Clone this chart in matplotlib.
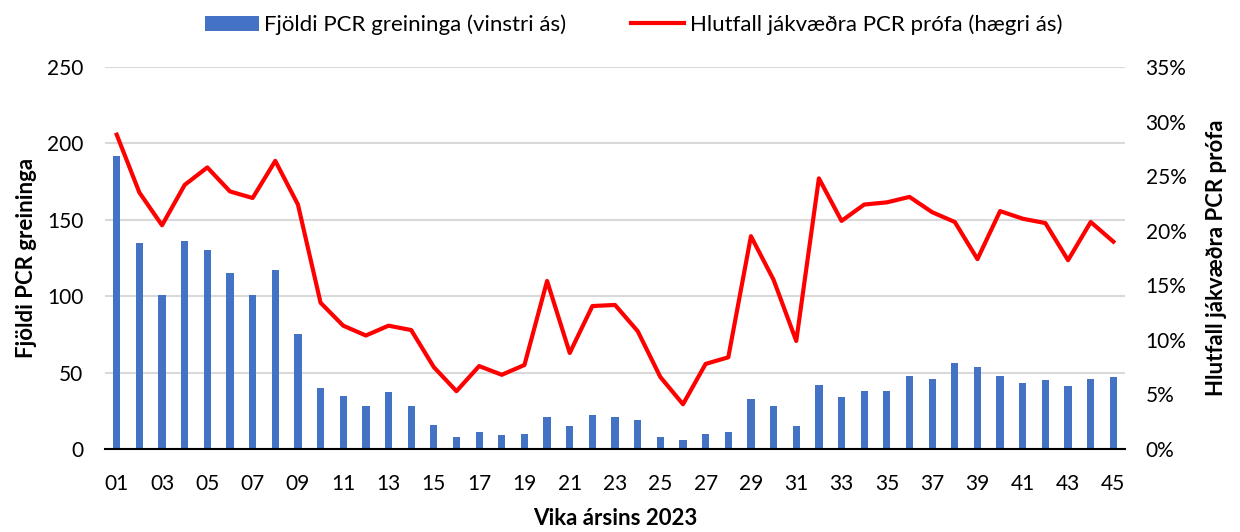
import matplotlib.pyplot as plt
from matplotlib.ticker import FuncFormatter

plt.rcParams['font.family'] = ['Lato', 'DejaVu Sans']

weeks = list(range(1, 46))
pcr_count = [192, 135, 101, 136, 130, 115, 101, 117, 75, 40,
             35, 28, 37, 28, 16, 8, 11, 9, 10, 21,
             15, 22, 21, 19, 8, 6, 10, 11, 33, 28,
             15, 42, 34, 38, 38, 48, 46, 56, 54, 48,
             43, 45, 41, 46, 47]
pos_rate = [28.8, 23.5, 20.5, 24.2, 25.8, 23.6, 23.0, 26.4, 22.4, 13.4,
            11.3, 10.4, 11.3, 10.9, 7.5, 5.3, 7.6, 6.8, 7.7, 15.4,
            8.8, 13.1, 13.2, 10.8, 6.6, 4.1, 7.8, 8.4, 19.5, 15.5,
            9.9, 24.8, 20.9, 22.4, 22.6, 23.1, 21.7, 20.8, 17.4, 21.8,
            21.1, 20.7, 17.3, 20.8, 19.0]
tick_weeks = weeks[::2]
tick_labels = ["%02d" % w for w in tick_weeks]

bar_color = "#4472C4"
line_color = "#FF0000"

fig = plt.figure(figsize=(12.4, 5.32), dpi=100)
ax = fig.add_axes([0.085, 0.156, 0.822, 0.718])
ax2 = ax.twinx()

bars = ax.bar(weeks, pcr_count, width=0.32, color=bar_color, zorder=2,
              label="Fjöldi PCR greininga (vinstri ás)")
line, = ax2.plot(weeks, pos_rate, color=line_color, lw=3, zorder=3,
                 label="Hlutfall jákvæðra PCR prófa (hægri ás)")

ax.set_xlim(0.5, 45.5)
ax.set_ylim(0, 250)
ax.set_yticks(range(0, 251, 50))
ax2.set_ylim(0, 35)
ax2.set_yticks(range(0, 36, 5))
ax2.yaxis.set_major_formatter(FuncFormatter(lambda v, p: "%d%%" % v))
ax.set_xticks(tick_weeks)
ax.set_xticklabels(tick_labels)

ax.grid(axis="y", color="#D9D9D9", lw=1.5, zorder=0)
ax.set_axisbelow(True)
for a in (ax, ax2):
    for s in ("top", "left", "right"):
        a.spines[s].set_visible(False)
    a.tick_params(length=0, labelsize=15, colors="black")
ax2.spines["bottom"].set_visible(False)
ax.spines["bottom"].set_linewidth(1.5)
ax.tick_params(axis="y", pad=16)
ax2.tick_params(axis="y", pad=15)
ax.tick_params(axis="x", pad=18)

ax.set_ylabel("Fjöldi PCR greininga", fontsize=16, fontweight="bold")
ax2.set_ylabel("Hlutfall jákvæðra PCR prófa", fontsize=16, fontweight="bold")
ax.set_xlabel("Vika ársins 2023", fontsize=16, fontweight="bold")
ax.yaxis.set_label_coords(-0.067, 0.5)
ax2.yaxis.set_label_coords(1.08, 0.5)
ax.xaxis.set_label_coords(0.5, -0.155)

fig.legend(handles=[bars, line], loc="upper center", bbox_to_anchor=(0.511, 1.01),
           ncol=2, frameon=False, fontsize=16, handlelength=2.4, columnspacing=2.9,
           handletextpad=0.25)

fig.savefig("out.png", dpi=100)
